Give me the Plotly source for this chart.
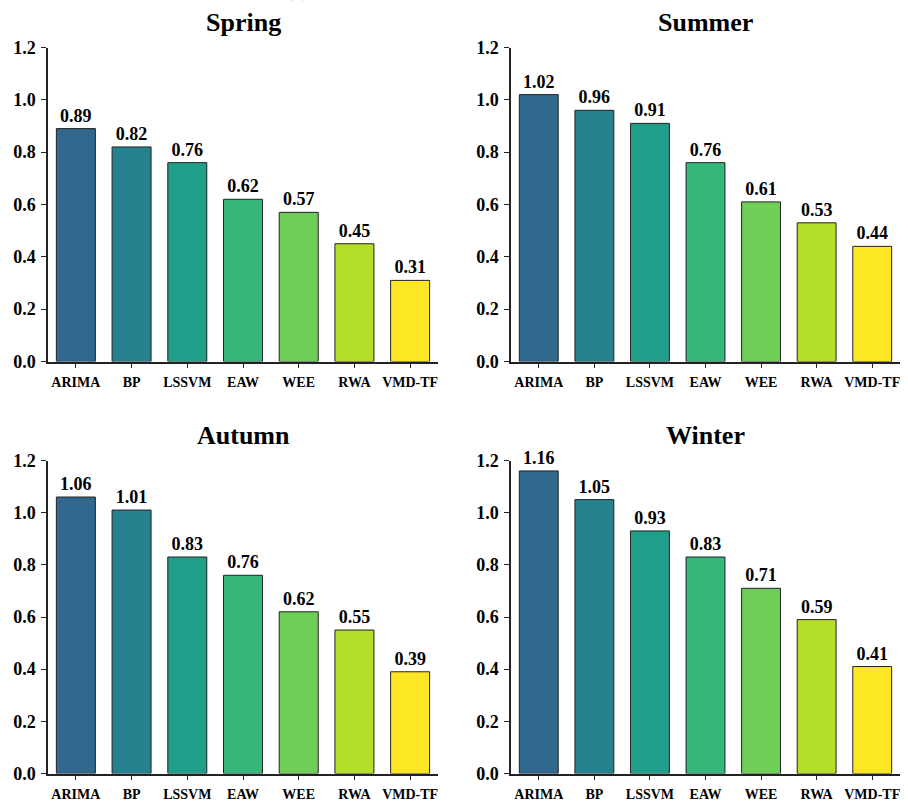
import plotly.graph_objects as go

# Forecast error by model for each season
models = ["ARIMA", "BP", "LSSVM", "EAW", "WEE", "RWA", "VMD-TF"]
spring = [0.89, 0.82, 0.76, 0.62, 0.57, 0.45, 0.31]
summer = [1.02, 0.96, 0.91, 0.76, 0.61, 0.53, 0.44]
autumn = [1.06, 1.01, 0.83, 0.76, 0.62, 0.55, 0.39]
winter = [1.16, 1.05, 0.93, 0.83, 0.71, 0.59, 0.41]
seasons = ["Spring", "Summer", "Autumn", "Winter"]
y_ticks = [0.0, 0.2, 0.4, 0.6, 0.8, 1.0, 1.2]

bar_colors = ["#31688e", "#26828e", "#1f9e89", "#35b779",
              "#6ece58", "#b5de2b", "#fde725"]

W, H = 908, 802
FONT = "Liberation Serif, Times New Roman, Times, serif"

# panel boxes in pixels: (left, right, top, bottom)
boxes = [(48, 438, 47.5, 361.5), (511, 900, 47.5, 361.5),
         (48, 438, 460.5, 773.5), (511, 900, 460.5, 773.5)]

fig = go.Figure()
series = [spring, summer, autumn, winter]
annotations = []

for i, (vals, name, box) in enumerate(zip(series, seasons, boxes)):
    n = "" if i == 0 else str(i + 1)
    left, right, top, bottom = box
    fig.add_trace(go.Bar(
        x=models, y=vals,
        xaxis="x" + n, yaxis="y" + n,
        marker=dict(color=bar_colors, line=dict(color="#222222", width=1)),
        width=0.7,
        text=[f"{v:.2f}" for v in vals],
        textposition="outside",
        constraintext="none",
        cliponaxis=False,
        textfont=dict(family=FONT, size=18, color="black", weight="bold"),
        showlegend=False,
    ))
    xdom = [left / W, right / W]
    ydom = [1 - bottom / H, 1 - top / H]
    fig.layout["xaxis" + n] = dict(
        domain=xdom, anchor="y" + n, range=[-0.5, 6.5], automargin=False,
        showline=True, linecolor="#222222", linewidth=1.5,
        ticks="outside", ticklen=5, tickwidth=1.2, tickcolor="#222222",
        tickfont=dict(family=FONT, size=14, color="black", weight="bold"),
        ticklabelstandoff=2, showgrid=False, zeroline=False,
    )
    fig.layout["yaxis" + n] = dict(
        domain=ydom, anchor="x" + n, range=[0, 1.2], automargin=False,
        tickvals=y_ticks, tickformat=".1f",
        showline=True, linecolor="#222222", linewidth=1.5,
        ticks="outside", ticklen=5, tickwidth=1.2, tickcolor="#222222",
        tickfont=dict(family=FONT, size=18, color="black", weight="bold"),
        ticklabelstandoff=2, showgrid=False, zeroline=False,
    )
    annotations.append(dict(
        text=name, x=(left + right) / 2 / W, y=1 - (top - 25) / H,
        xref="paper", yref="paper", xanchor="center", yanchor="middle",
        showarrow=False,
        font=dict(family=FONT, size=26, color="black", weight="bold"),
    ))

# figure label, sitting mostly above the page edge
annotations.append(dict(
    text="(a)", x=297 / W, y=1 - 3 / H, xref="paper", yref="paper",
    xanchor="center", yanchor="bottom", showarrow=False,
    font=dict(family=FONT, size=20, color="black"),
))

fig.update_layout(
    width=W, height=H,
    margin=dict(l=0, r=0, t=0, b=0),
    paper_bgcolor="white", plot_bgcolor="white",
    bargap=0.3,
    annotations=annotations,
)

fig.write_html("out.html")
